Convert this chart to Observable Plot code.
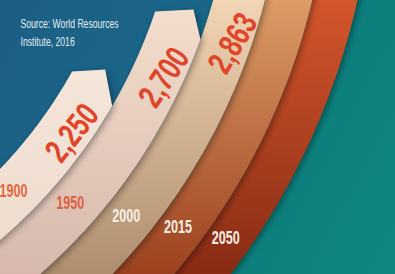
<!DOCTYPE html>
<html><head><meta charset="utf-8">
<script src="https://cdn.jsdelivr.net/npm/d3@7"></script>
<script src="https://cdn.jsdelivr.net/npm/@observablehq/plot@0.6"></script>
<style>
html,body{margin:0;padding:0;background:#0c7c7b;}
#chart svg{display:block;}
</style></head><body><div id="chart"></div>
<script>
// ---- data ----
const years = ["1900", "1950", "2000", "2015", "2050"];
const values = [2250, 2700, 2863, null, null];
const valueLabels = ["2,250", "2,700", "2,863", "", ""];
const sourceLines = ["Source: World Resources", "Institute, 2016"];
// ---- style ----
const bandTop = ["#f7eadf", "#f5dfcf", "#f2d5b5", "#dd9b66", "#d3562c"];
const bandBottom = ["#eddacb", "#d6b9ac", "#ad8d6d", "#9c411f", "#882b14"];
const yearColors = ["#e2683f", "#db6240", "#f7f0e6", "#f7f0e6", "#f7f0e6"];
const valueColor = "#e0452a";

// ---- layout ----
const W = 395, H = 274;
const cx = -336, cy = -155;
const radii = [466, 518, 570, 620, 666, 710];
const rad = d => d * Math.PI / 180;
const endAngle = d3.scaleLinear().domain([2250, 2700, 2863]).range([29, 18.7, 13]);
const startAngle = 80, openEnd = 4;
const pt = (r, a) => ({x: cx + r * Math.cos(rad(a)), y: cy + r * Math.sin(rad(a))});

function bandPolygon(i) {
  const v = values[i], rin = radii[i], rout = radii[i + 1];
  const aIn = v == null ? openEnd : endAngle(v);
  const aOut = v == null ? openEnd : aIn + 1.2;
  const pts = [], n = 80;
  for (let k = 0; k <= n; k++) pts.push(pt(rin, startAngle + (aIn - startAngle) * k / n));
  if (v != null) {
    const pi = pt(rin, aIn), po = pt(rout, aOut);
    pts.push({x: po.x - 7, y: pi.y - 2});
  }
  for (let k = 0; k <= n; k++) pts.push(pt(rout, aOut + (startAngle - aOut) * k / n));
  pts.push(pts[0]);
  return pts;
}

// year labels sit on a straight baseline crossing the bands
const base = {x: 16, y: 191}, slope = 0.223;
function onBaseline(r) {
  const n = Math.hypot(1, slope), ux = 1 / n, uy = slope / n;
  const px = base.x - cx, py = base.y - cy;
  const b = px * ux + py * uy, c = px * px + py * py - r * r;
  const t = -b + Math.sqrt(b * b - c);
  return {x: base.x + t * ux, y: base.y + t * uy};
}

const yearData = years.map((y, i) => {
  const p = onBaseline((radii[i] + radii[i + 1]) / 2 - (i === 0 ? 1 : 3));
  return {label: y, x: p.x, y: p.y, color: yearColors[i]};
});
const valueData = values.map((v, i) => {
  if (v == null) return null;
  const a = endAngle(v) + 6.2;
  const p = pt((radii[i] + radii[i + 1]) / 2 + 7, a);
  return {label: valueLabels[i], x: p.x, y: p.y, rotate: 0.5 * (a - 90) - 24};
}).filter(d => d);

const bandOrder = d3.range(years.length - 1, -1, -1);
const bandMarks = bandOrder.map(i =>
  Plot.line(bandPolygon(i), {x: "x", y: "y", fill: bandBottom[i], stroke: null, curve: "linear"})
);

const svg = Plot.plot({
  width: W, height: H, margin: 0,
  x: {domain: [0, W], range: [0, W], axis: null},
  y: {domain: [0, H], range: [0, H], axis: null},
  color: {type: "identity"},
  style: {background: "linear-gradient(118deg, #1c5e84 0%, #1a6689 38%, #0b7b7a 56%, #0f8782 100%)", overflow: "hidden"},
  marks: [
    ...bandMarks,
    Plot.text(yearData, {x: "x", y: "y", text: "label", fill: "color", fontSize: 18, fontWeight: "bold", fontFamily: "Liberation Sans, Arial, sans-serif"}),
    Plot.text(valueData, {x: "x", y: "y", text: "label", rotate: "rotate", fill: valueColor, fontSize: 34, fontWeight: "bold", fontFamily: "Liberation Sans, Arial, sans-serif"}),
    Plot.text([sourceLines.join("\n")], {frameAnchor: "top-left", dx: 20, dy: 14, lineAnchor: "top", textAnchor: "start", lineHeight: 1.55, fill: "#e4edf1", fontSize: 12, fontFamily: "Liberation Sans, Arial, sans-serif"})
  ]
});

// gradients + shadows for the bands
const defs = d3.select(svg).insert("defs", ":first-child");
years.forEach((y, i) => {
  const g = defs.append("linearGradient").attr("id", `band${i}`)
    .attr("gradientUnits", "userSpaceOnUse").attr("x1", 0).attr("y1", 0).attr("x2", 0).attr("y2", H);
  g.append("stop").attr("offset", "0%").attr("stop-color", bandTop[i]);
  g.append("stop").attr("offset", "100%").attr("stop-color", bandBottom[i]);
});
const lineGroups = svg.querySelectorAll(':scope > g[aria-label="line"]');
lineGroups.forEach((g, k) => {
  const i = bandOrder[k];
  g.setAttribute("fill", `url(#band${i})`);
  g.querySelectorAll("path").forEach(p => { p.removeAttribute("fill"); p.style.filter = "drop-shadow(2px 2px 3px rgba(0,0,0,0.35))"; });
});
// condensed type
const textGroups = svg.querySelectorAll(':scope > g[aria-label="text"]');
const squeezeK = [0.7, 0.74, 0.72];
textGroups.forEach((g, k) => g.querySelectorAll("text").forEach(t => {
  t.setAttribute("transform", (t.getAttribute("transform") || "") + ` scale(${squeezeK[k]},1)`);
}));

document.getElementById("chart").appendChild(svg);
</script></body></html>
